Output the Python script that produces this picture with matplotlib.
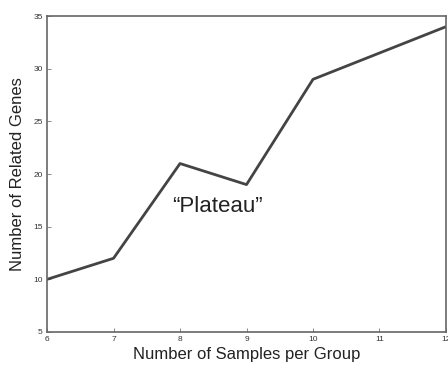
import matplotlib
matplotlib.use('Agg')
import matplotlib.pyplot as plt

# --- DATA ---
samples = [6, 7, 8, 9, 10, 11, 12]
genes = [10, 12, 21, 19, 29, 31.5, 34]
x_ticks = [6, 7, 8, 9, 10, 11, 12]
y_ticks = [5, 10, 15, 20, 25, 30, 35]
# ------------

plt.rcParams['font.family'] = ['Liberation Sans', 'DejaVu Sans']

fig = plt.figure(figsize=(4.48, 3.67), dpi=100)
ax = fig.add_axes([0.105, 0.0954, 0.8905, 0.8606])

ax.plot(samples, genes, color='#444444', linewidth=2.0)

ax.set_xlim(6, 12)
ax.set_ylim(5, 35)
ax.set_xticks(x_ticks)
ax.set_yticks(y_ticks)
ax.tick_params(direction='in', length=3, width=0.6, labelsize=6, colors='#777777',
               labelcolor='#333333', pad=3)

for s in ax.spines.values():
    s.set_color('#666666')
    s.set_linewidth(1.2)

ax.set_xlabel('Number of Samples per Group', fontsize=12, color='#222222', labelpad=3)
ax.set_ylabel('Number of Related Genes', fontsize=12, color='#222222', labelpad=6)

ax.text(8.56, 16.9, '\u201cPlateau\u201d', fontsize=16, color='#222222',
        ha='center', va='center')

fig.savefig('out.png', dpi=100)
